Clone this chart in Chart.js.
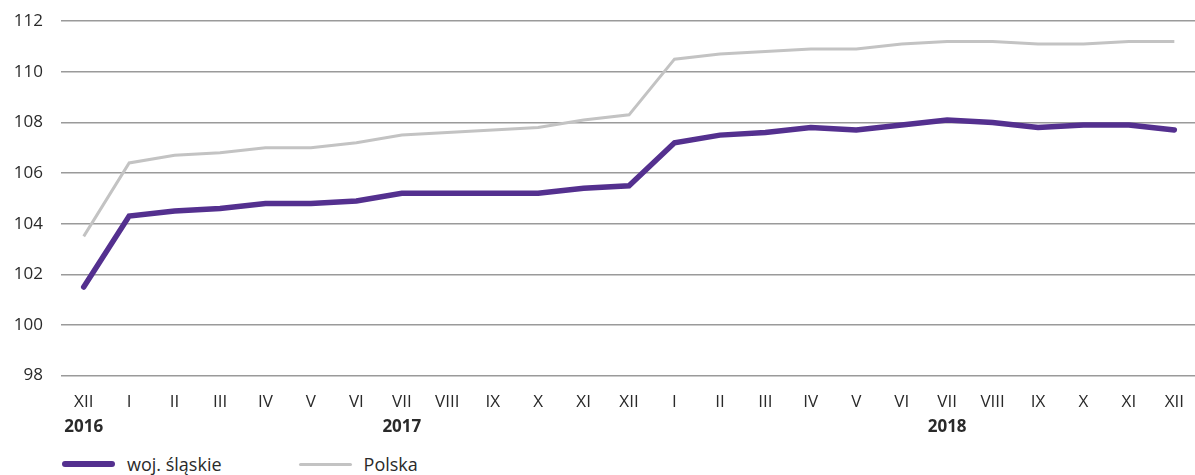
<!DOCTYPE html>
<html>
<head>
<meta charset="utf-8">
<script src="https://cdn.jsdelivr.net/npm/chart.js@4"></script>
<style>
  body { margin: 0; width: 1195px; height: 475px; overflow: hidden; background: #fff; font-family: "Open Sans", sans-serif; }
  #wrap { position: relative; width: 1200px; height: 447px; margin-top: -7px; }
  #legend { position: absolute; left: 62px; top: 452px; font-size: 18px; color: #2a2a2a; display: flex; align-items: center; }
  .sw { display: inline-block; width: 53px; border-radius: 3px; margin-right: 12px; }
</style>
</head>
<body>
<div id="wrap"><canvas id="chart" width="1200" height="447"></canvas></div>
<div id="legend">
  <span class="sw" style="height:6px;background:#54308f"></span><span style="margin-right:77px">woj. śląskie</span>
  <span class="sw" style="height:3px;background:#c3c3c3"></span><span>Polska</span>
</div>
<script>
// months and years
var months = ["XII", "I", "II", "III", "IV", "V", "VI", "VII", "VIII", "IX", "X", "XI", "XII",
  "I", "II", "III", "IV", "V", "VI", "VII", "VIII", "IX", "X", "XI", "XII"];
var years = ["2016", "", "", "", "", "", "", "2017", "", "", "", "", "",
  "", "", "", "", "", "", "2018", "", "", "", "", ""];

var slaskie = [101.5, 104.3, 104.5, 104.6, 104.8, 104.8, 104.9, 105.2, 105.2, 105.2, 105.2, 105.4, 105.5,
  107.2, 107.5, 107.6, 107.8, 107.7, 107.9, 108.1, 108.0, 107.8, 107.9, 107.9, 107.7];
var polska = [103.5, 106.4, 106.7, 106.8, 107.0, 107.0, 107.2, 107.5, 107.6, 107.7, 107.8, 108.1, 108.3,
  110.5, 110.7, 110.8, 110.9, 110.9, 111.1, 111.2, 111.2, 111.1, 111.1, 111.2, 111.2];

var yTicks = [98, 100, 102, 104, 106, 108, 110, 112];

// year labels under the months
var yearLabels = {
  id: "yearLabels",
  afterDraw: function (chart) {
    var x = chart.scales.x;
    var c = chart.ctx;
    c.save();
    c.font = "bold 17px 'Open Sans'";
    c.fillStyle = "#2a2a2a";
    c.textAlign = "center";
    c.textBaseline = "middle";
    years.forEach(function (y, i) {
      if (y) c.fillText(y, x.getPixelForValue(i), x.bottom - 1);
    });
    c.restore();
  },
};

var ctx = document.getElementById("chart").getContext("2d");
var chart = new Chart(ctx, {
  type: "line",
  data: {
    labels: months,
    datasets: [
      {
        label: "Polska",
        data: polska,
        borderColor: "#c3c3c3",
        borderWidth: 3,
        pointRadius: 0,
        tension: 0,
      },
      {
        label: "woj. śląskie",
        data: slaskie,
        borderColor: "#54308f",
        borderWidth: 5.5,
        borderCapStyle: "round",
        pointRadius: 0,
        tension: 0,
      },
    ],
  },
  plugins: [yearLabels],
  options: {
    responsive: false,
    animation: false,
    layout: { padding: { top: 0, left: 0, right: 0, bottom: 12 } },
    plugins: { legend: { display: false }, tooltip: { enabled: false } },
    scales: {
      x: {
        offset: true,
        grid: { display: false, drawTicks: false },
        border: { display: false },
        ticks: { color: "#2a2a2a", font: { family: "Open Sans", size: 17 }, autoSkip: false, maxRotation: 0, padding: 16 },
      },
      y: {
        min: 98,
        max: 112,
        afterBuildTicks: function (axis) {
          axis.ticks = yTicks.map(function (v) { return { value: v }; });
        },
        afterFit: function (axis) { axis.width = 61; },
        grid: { color: "#9a9a9a", lineWidth: 1.5, drawTicks: false },
        border: { display: false },
        ticks: { color: "#2a2a2a", font: { family: "Open Sans", size: 17 }, padding: 18 },
      },
    },
  },
});
</script>
</body>
</html>
